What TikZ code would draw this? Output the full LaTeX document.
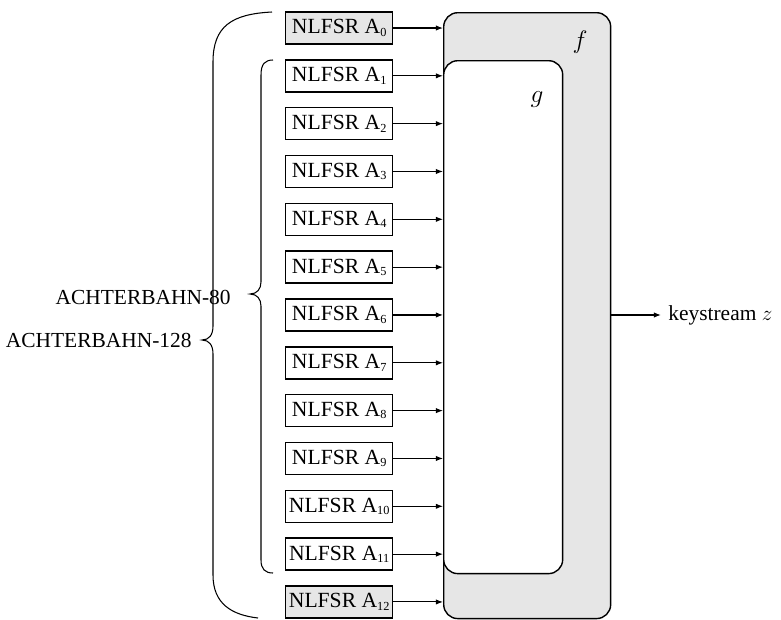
\documentclass[tikz,border=0pt]{standalone}
\usepackage{fontspec}
\setmainfont{Liberation Serif}
\usetikzlibrary{arrows.meta}
\newcommand{\regsub}[1]{\raisebox{-0.25ex}{\fontsize{7}{8}\selectfont #1}}

\begin{document}
\begin{tikzpicture}[x=0.02cm, y=-0.02cm, every node/.style={font=\fontsize{12.2}{14}\selectfont},
    regbox/.style={draw, line width=0.8pt, minimum height=0.64cm, minimum width=2.14cm, inner xsep=0.5pt, anchor=west, font=\fontsize{12.3}{15}\selectfont},
    feed/.style={-{Latex[length=4pt,width=3pt]}, line width=0.6pt}]
  \definecolor{acGray}{HTML}{E6E6E6}
  \useasboundingbox (0,0) rectangle (781,619);
  % combining functions
  \node[draw, line width=0.8pt, fill=acGray, rounded corners=8pt, minimum width=3.34cm, minimum height=12.12cm, anchor=north west, inner sep=0pt] (f) at (443,12) {};
  \node[draw, line width=0.8pt, fill=white, rounded corners=8pt, minimum width=2.38cm, minimum height=10.26cm, anchor=north west, inner sep=0pt] (g) at (443,60) {};
  \node[font=\fontsize{14}{16}\selectfont] (flab) at (580,42) {$f$};
  \node[font=\fontsize{14}{16}\selectfont] (glab) at (537,100) {$g$};
  % registers
  \node[regbox, fill=acGray] (a0) at (285,28) {NLFSR A\regsub{0}};
  \foreach \i in {1,...,11}
    \node[regbox] (a\i) at (285,{28+47.83*\i}) {NLFSR A\regsub{\i}};
  \node[regbox, fill=acGray] (a12) at (285,{28+47.83*12}) {NLFSR A\regsub{12}};
  \draw[feed] (a0.east) -- (a0.east -| f.west);
  \foreach \i in {1,...,11}
    \draw[feed] (a\i.east) -- (a\i.east -| g.west);
  \draw[feed] (a12.east) -- (a12.east -| f.west);
  % output
  \node[anchor=west, inner sep=0pt] (ks) at (668,315) {keystream $z$};
  \draw[feed] (f.east |- ks.west) -- ([xshift=-4pt]ks.west);
  % braces
  \draw[line width=0.6pt] (272,12) .. controls (232,14) and (213,26) .. (213,62) -- (213,326)
    .. controls (213,335) and (209,340) .. (202,340) .. controls (209,340) and (213,345) .. (213,354)
    -- (213,575) .. controls (213,604) and (232,615) .. (258,618);
  \draw[line width=0.6pt] (273,60) .. controls (265,60) and (261,64) .. (261,75) -- (261,282)
    .. controls (261,289) and (257,294) .. (250,294) .. controls (257,294) and (261,299) .. (261,306)
    -- (261,560) .. controls (261,569) and (265,573) .. (273,573);
  \node[anchor=east, inner sep=0pt] (ach80) at (231,297) {ACHTERBAHN-80};
  \node[anchor=east, inner sep=0pt] (ach128) at (192,340) {ACHTERBAHN-128};
\end{tikzpicture}
\end{document}
